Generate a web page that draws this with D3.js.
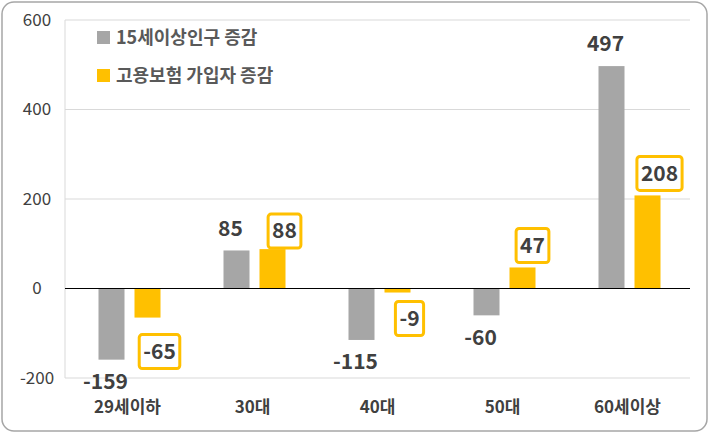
<!DOCTYPE html>
<html><head><meta charset="utf-8">
<script src="https://cdn.jsdelivr.net/npm/d3@7"></script>
<style>body{margin:0;background:#fff}svg{font-family:"Noto Sans CJK KR","Noto Sans",sans-serif}</style>
</head><body><svg id="c" width="710" height="434"></svg>
<script>
const categories=["29세이하","30대","40대","50대","60세이상"];
const population=[-159,85,-115,-60,497];
const insured=[-65,88,-9,47,208];
const yTicks=[-200,0,200,400,600];
const seriesNames=["15세이상인구 증감","고용보험 가입자 증감"];
const popLabelDy=[22,-22,22,22,-22];
const insLabel=[{dx:12,dy:34},{dx:12,dy:-18},{dx:12,dy:26},{dx:10,dy:-22},{dx:12,dy:-22}];

const svg=d3.select("#c");
svg.append("rect").attr("x",2).attr("y",2).attr("width",705).attr("height",429).attr("rx",12)
 .attr("fill","#fff").attr("stroke","#a6a6a6").attr("stroke-width",1.5);
const y=d3.scaleLinear().domain([-200,600]).range([378,20]);
const x=d3.scaleBand().domain(categories).range([65,690]);
const g=svg.append("g");
g.selectAll(".grid").data(yTicks).enter().append("line").attr("x1",65).attr("x2",690)
 .attr("y1",d=>y(d)).attr("y2",d=>y(d)).attr("stroke","#d9d9d9");
g.append("line").attr("x1",65).attr("x2",65).attr("y1",y(600)).attr("y2",y(-200)).attr("stroke","#d9d9d9");
const yAxis=d3.axisLeft(y).tickValues(yTicks).tickSize(0).tickPadding(8).tickFormat(d=>String(d));
const ya=svg.append("g").attr("transform","translate(53,0)").call(yAxis);
ya.select(".domain").remove();
ya.selectAll("text").attr("font-size",17).attr("fill","#404040").attr("font-family","'Noto Sans CJK KR',sans-serif").attr("text-anchor","middle").attr("dx",-8);
const bw=26;
const bars=svg.append("g"), labels=svg.append("g");
categories.forEach((c,i)=>{
 const cx=x(c)+x.bandwidth()/2;
 const p=population[i], q=insured[i];
 bars.append("rect").attr("x",cx-bw-3).attr("width",bw).attr("y",y(Math.max(0,p))).attr("height",Math.abs(y(p)-y(0))).attr("fill","#a6a6a6");
 bars.append("rect").attr("x",cx+7).attr("width",bw).attr("y",y(Math.max(0,q))).attr("height",Math.abs(y(q)-y(0))).attr("fill","#ffc000");
 labels.append("text").attr("x",cx-bw/2-3-6).attr("y",y(p)+popLabelDy[i]).attr("dy","0.35em").attr("text-anchor","middle")
  .attr("font-size",21).attr("font-weight","bold").attr("fill","#404040").text(String(p));
 const lx=cx+7+bw/2+insLabel[i].dx, ly=y(q)+insLabel[i].dy;
 const box=labels.append("rect");
 const t=labels.append("text").attr("x",lx).attr("y",ly).attr("dy","0.35em").attr("text-anchor","middle")
  .attr("font-size",21).attr("font-weight","bold").attr("fill","#404040").text(String(q));
 const bb=t.node().getBBox();
 box.attr("x",bb.x-4).attr("y",ly-17).attr("width",bb.width+8).attr("height",34)
  .attr("rx",3).attr("fill","#fff").attr("stroke","#ffc000").attr("stroke-width",3);
 svg.append("text").attr("x",cx).attr("y",413).attr("text-anchor","middle").attr("font-size",17).attr("font-weight","bold").attr("fill","#404040").text(c);
});
bars.append("line").attr("x1",65).attr("x2",690).attr("y1",y(0)).attr("y2",y(0)).attr("stroke","#000").attr("stroke-width",1.2);
labels.raise();
const colors=["#a6a6a6","#ffc000"];
seriesNames.forEach((s,i)=>{
 svg.append("rect").attr("x",97).attr("y",31+i*38).attr("width",13).attr("height",13).attr("fill",colors[i]);
 svg.append("text").attr("x",116).attr("y",38+i*38).attr("dy","0.35em").attr("font-size",18).attr("font-weight","bold").attr("fill","#595959").text(s);
});
</script></body></html>
